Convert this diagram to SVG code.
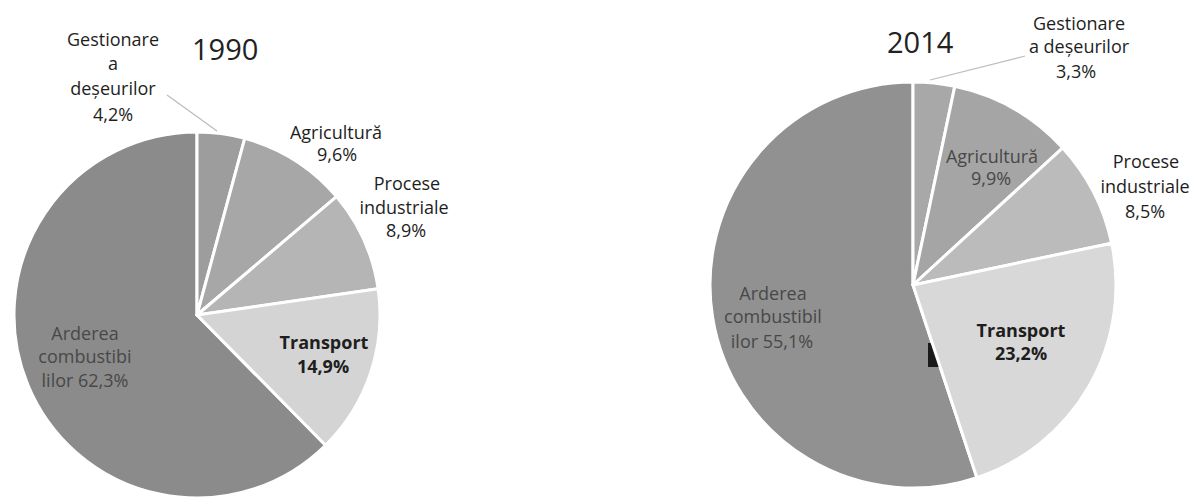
<svg xmlns="http://www.w3.org/2000/svg" width="1203" height="499" viewBox="0 0 1203 499">
<style>
.sl{stroke:#fff;stroke-width:3;stroke-linejoin:round}
.t{font-family:"Open Sans","Liberation Sans",sans-serif;font-size:18px;fill:#1e1e1e;text-anchor:middle}
.b{font-weight:bold}
.in{fill:#484848}
.yr{font-family:"Open Sans","Liberation Sans",sans-serif;font-size:29px;fill:#222}
.ld{stroke:#bbb;stroke-width:1.2;fill:none}
</style>
<rect width="1203" height="499" fill="#fff"/>
<text class="yr" x="192" y="60">1990</text>
<text class="yr" x="887" y="53">2014</text>
<g id="p1990">
<g id="l-arderea"><path class="sl" d="M197,315 L325.59,445.21 A183,183 0 1 1 197,132 Z" fill="#8b8b8b"/>
<text class="t in"><tspan x="85" y="340">Arderea</tspan><tspan x="85" y="363">combustibi</tspan><tspan x="85" y="387">lilor 62,3%</tspan></text></g>
<g id="l-gest"><path class="sl" d="M197,315 L197,132 A183,183 0 0 1 244.74,138.33 Z" fill="#9d9d9d"/>
<text class="t"><tspan x="113" y="46">Gestionare</tspan><tspan x="113" y="70">a</tspan><tspan x="113" y="95">deșeurilor</tspan><tspan x="113" y="121">4,2%</tspan></text></g>
<g id="l-agri"><path class="sl" d="M197,315 L244.74,138.33 A183,183 0 0 1 336.54,196.6 Z" fill="#a7a7a7"/>
<text class="t"><tspan x="336" y="139">Agricultură</tspan><tspan x="337" y="161">9,6%</tspan></text></g>
<g id="l-proc"><path class="sl" d="M197,315 L336.54,196.6 A183,183 0 0 1 378.09,288.65 Z" fill="#b5b5b5"/>
<text class="t"><tspan x="407" y="190">Procese</tspan><tspan x="404" y="214">industriale</tspan><tspan x="406" y="237">8,9%</tspan></text></g>
<g id="l-trans"><path class="sl" d="M197,315 L378.09,288.65 A183,183 0 0 1 325.59,445.21 Z" fill="#d4d4d4"/>
<text class="t b"><tspan x="324" y="349">Transport</tspan><tspan x="323" y="373">14,9%</tspan></text></g>
</g>
<g id="p2014">
<g id="r-arderea"><path class="sl" d="M913,285 L976.95,477.67 A203,203 0 1 1 913,82 Z" fill="#919191"/>
<text class="t in"><tspan x="773" y="300">Arderea</tspan><tspan x="773" y="323">combustibil</tspan><tspan x="772" y="348">ilor 55,1%</tspan></text></g>
<rect id="artifact" x="928" y="343" width="12" height="24" fill="#1a1a1a"/>
<g id="r-gest"><path class="sl" d="M913,285 L913,82 A203,203 0 0 1 954.79,86.35 Z" fill="#a8a8a8"/>
<text class="t"><tspan x="1079" y="30">Gestionare</tspan><tspan x="1079" y="53">a deșeurilor</tspan><tspan x="1076" y="78">3,3%</tspan></text></g>
<g id="r-agri"><path class="sl" d="M913,285 L954.79,86.35 A203,203 0 0 1 1062.73,147.92 Z" fill="#a5a5a5"/>
<text class="t in"><tspan x="992" y="163">Agricultură</tspan><tspan x="991" y="185">9,9%</tspan></text></g>
<g id="r-proc"><path class="sl" d="M913,285 L1062.73,147.92 A203,203 0 0 1 1111.65,243.21 Z" fill="#bbbbbb"/>
<text class="t"><tspan x="1146" y="168">Procese</tspan><tspan x="1145" y="193">industriale</tspan><tspan x="1145" y="218">8,5%</tspan></text></g>
<g id="r-trans"><path class="sl" d="M913,285 L1111.65,243.21 A203,203 0 0 1 976.95,477.67 Z" fill="#d8d8d8"/>
<text class="t b"><tspan x="1021" y="337">Transport</tspan><tspan x="1021" y="360">23,2%</tspan></text></g>
</g>
<g id="connectors">
<path class="ld" d="M167,95 L217,131"/>
<path class="ld" d="M930,80 L1025,56"/>
</g>
</svg>
